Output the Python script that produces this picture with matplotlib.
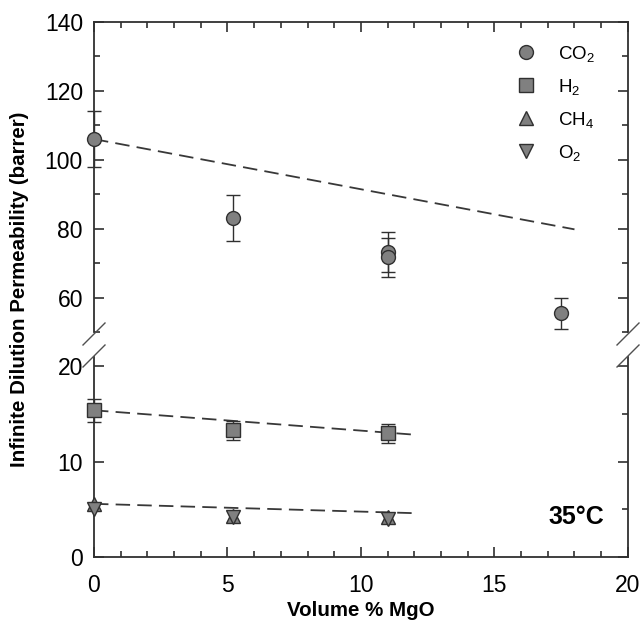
import matplotlib
matplotlib.use("Agg")
import matplotlib.pyplot as plt
from matplotlib.lines import Line2D
from matplotlib.ticker import MultipleLocator

# measured data (volume % MgO vs. permeability, barrer)
mgo_co2 = [0, 5.2, 11, 11, 17.5]
co2 = [106, 83.1, 73.2, 71.7, 55.4]
co2_err = [8.2, 6.7, 5.9, 5.7, 4.4]

mgo_small = [0, 5.2, 11]
h2 = [15.4, 13.3, 13.0]
h2_err = [1.2, 1.0, 1.0]
ch4 = [5.6, 4.35, 4.15]
o2 = [5.0, 4.15, 4.0]

# dashed trend lines (end points)
fit_co2_x = [0, 18]
fit_co2_y = [106, 79.8]
fit_small_x = [0, 12]
fit_h2_y = [15.4, 12.84]
fit_ch4_y = [5.58, 4.6]

plt.rcParams.update({
    "font.family": ["Liberation Sans", "DejaVu Sans"],
    "mathtext.default": "regular",
    "font.size": 16.5,
})

face = "#808080"
edge = "#303030"
mk = dict(markersize=10, markerfacecolor=face, markeredgecolor=edge, markeredgewidth=1.0, linestyle="none")
eb = dict(ecolor="#303030", elinewidth=1.0, capsize=5, capthick=1.0)
dash = dict(color="#383838", linewidth=1.3, dashes=(8, 4))

fig = plt.figure(figsize=(6.42, 6.29), dpi=100)
ax_top = fig.add_axes([0.1464, 0.4722, 0.8316, 0.4928])
ax_bot = fig.add_axes([0.1464, 0.1145, 0.8316, 0.318])

# upper panel: CO2
ax_top.plot(fit_co2_x, fit_co2_y, **dash)
ax_top.errorbar(mgo_co2, co2, yerr=co2_err, fmt="o", **mk, **eb, zorder=3, clip_on=False)
ax_top.set_xlim(0, 20)
ax_top.set_ylim(50, 140)
ax_top.yaxis.set_major_locator(MultipleLocator(20))
ax_top.yaxis.set_minor_locator(MultipleLocator(10))
ax_top.xaxis.set_major_locator(MultipleLocator(5))
ax_top.xaxis.set_minor_locator(MultipleLocator(1))
ax_top.spines["bottom"].set_visible(False)
ax_top.tick_params(which="both", direction="in", top=True, bottom=False, right=True,
                   labelbottom=False, labelright=False)
ax_top.set_yticks([60, 80, 100, 120, 140])

# lower panel: H2, CH4, O2
ax_bot.plot(fit_small_x, fit_h2_y, **dash)
ax_bot.plot(fit_small_x, fit_ch4_y, **dash)
ax_bot.errorbar(mgo_small, h2, yerr=h2_err, fmt="s", **mk, **eb, zorder=3, clip_on=False)
ax_bot.plot(mgo_small, ch4, marker="^", **mk, zorder=3, clip_on=False)
ax_bot.plot(mgo_small, o2, marker="v", **mk, zorder=3, clip_on=False)
ax_bot.set_xlim(0, 20)
ax_bot.set_ylim(0, 21)
ax_bot.yaxis.set_major_locator(MultipleLocator(10))
ax_bot.yaxis.set_minor_locator(MultipleLocator(5))
ax_bot.xaxis.set_major_locator(MultipleLocator(5))
ax_bot.xaxis.set_minor_locator(MultipleLocator(1))
ax_bot.spines["top"].set_visible(False)
ax_bot.tick_params(which="both", direction="in", top=False, right=True, labelright=False)
ax_bot.tick_params(axis="x", pad=12)

for ax in (ax_top, ax_bot):
    for s in ax.spines.values():
        s.set_linewidth(1.3)
        s.set_color("#303030")
    ax.tick_params(which="major", length=7, width=1.2, color="#303030")
    ax.tick_params(which="minor", length=4, width=1.2, color="#303030")
    ax.tick_params(axis="y", pad=8)

# axis break marks
W, H = 642, 629
for xc in (94, 628):
    for yc in (334, 356):
        fig.add_artist(Line2D([(xc - 11) / W, (xc + 11) / W],
                              [1 - (yc + 11) / H, 1 - (yc - 11) / H],
                              color="#505050", linewidth=1.0))

handles = [
    Line2D([], [], marker="o", **mk),
    Line2D([], [], marker="s", **mk),
    Line2D([], [], marker="^", **mk),
    Line2D([], [], marker="v", **mk),
]
ax_top.legend(handles, ["CO$_2$", "H$_2$", "CH$_4$", "O$_2$"], loc="upper right",
              bbox_to_anchor=(0.97, 0.985), frameon=False, fontsize=13.5,
              handletextpad=1.1, labelspacing=0.7, handlelength=1.2)

ax_bot.text(0.955, 0.2, "35°C", transform=ax_bot.transAxes, ha="right", va="center",
            fontsize=18, fontweight="bold")

fig.text(20 / W, 1 - 289 / H, "Infinite Dilution Permeability (barrer)", rotation=90,
         ha="center", va="center", fontsize=14.8, fontweight="bold")
fig.text(361 / W, 1 - 611 / H, "Volume % MgO", ha="center", va="center",
         fontsize=14.8, fontweight="bold")

fig.savefig("out.png", dpi=100)
